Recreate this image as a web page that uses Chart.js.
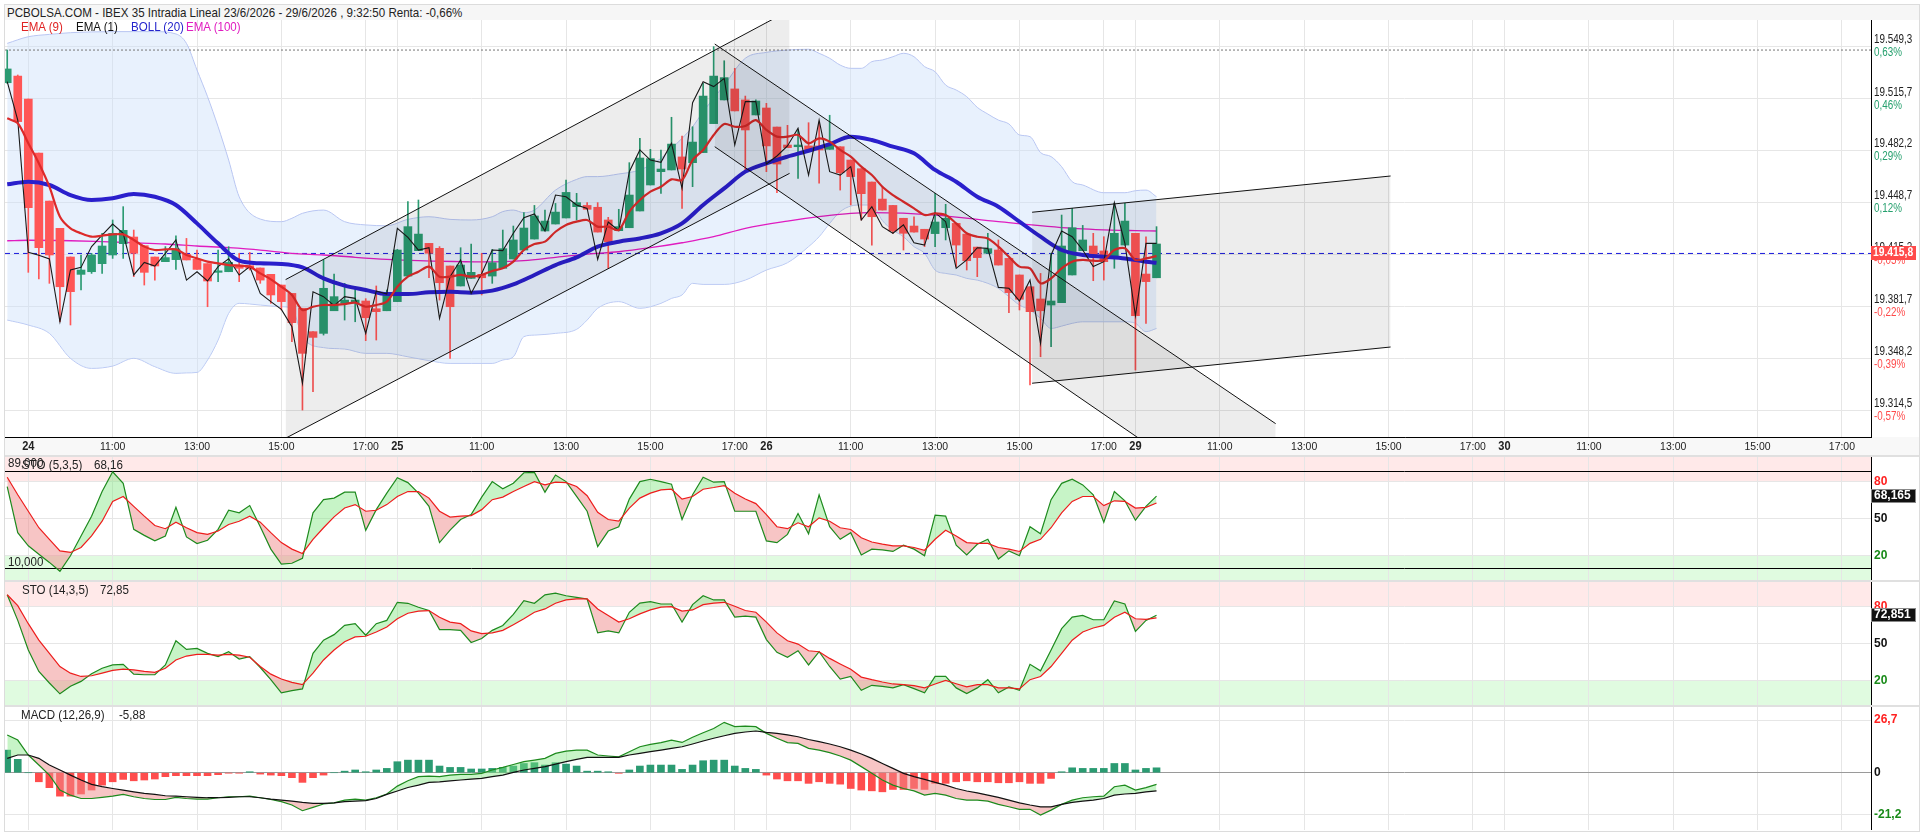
<!DOCTYPE html>
<html lang="es">
<head>
<meta charset="utf-8">
<title>IBEX 35 Intradia</title>
<script src="https://cdn.jsdelivr.net/npm/chart.js@4.4.1/dist/chart.umd.min.js"></script>
<style>
  html, body { margin: 0; padding: 0; background: #fff; }
  body { width: 1924px; height: 835px; position: relative; overflow: hidden;
         font-family: 'Liberation Sans', Arial, sans-serif; color: #222; }
  .abs { position: absolute; }
  #frame { left: 4px; top: 4px; width: 1916px; height: 828px; border: 1px solid #dcdcdc; box-sizing: border-box; }
  #titlebar { left: 5px; top: 5px; width: 1914px; height: 15px; background: #f6f6f6; }
  .sep { left: 5px; width: 1914px; height: 2px; background: #e0e0e0; }
  canvas.panel { position: absolute; left: 0; }
  /* letra algo estrecha: Liberation Sans comprimida */
  .txt { position: absolute; white-space: nowrap; font-size: 13px; line-height: 16px;
         transform: scaleX(0.89); transform-origin: 0 50%; }
</style>
</head>
<body>
<div id="frame" class="abs"></div>
<div id="titlebar" class="abs"></div>
<div class="txt" style="left:7px;top:5px;line-height:15px;">PCBOLSA.COM - IBEX 35 Intradia Lineal 23/6/2026 - 29/6/2026 , 9:32:50 Renta: -0,66%</div>

<canvas id="priceChart" class="panel" width="1919" height="435" style="top:20px"></canvas>
<div class="sep abs" style="top:455px"></div>
<canvas id="stoFast" class="panel" width="1919" height="123" style="top:457px"></canvas>
<div class="sep abs" style="top:580px"></div>
<canvas id="stoSlow" class="panel" width="1919" height="123" style="top:582px"></canvas>
<div class="sep abs" style="top:705px"></div>
<canvas id="macdChart" class="panel" width="1919" height="123" style="top:707px"></canvas>

<!-- leyenda -->
<div class="txt" style="left:21px;top:19px;color:#e02424">EMA (9)</div>
<div class="txt" style="left:76px;top:19px;color:#111">EMA (1)</div>
<div class="txt" style="left:131px;top:19px;color:#2424cc">BOLL (20)</div>
<div class="txt" style="left:186px;top:19px;color:#e01cc0">EMA (100)</div>

<div class="txt" style="left:8px;top:455px">89,000</div>
<div class="txt" style="left:22px;top:457px">STO (5,3,5)</div>
<div class="txt" style="left:94px;top:457px">68,16</div>
<div class="txt" style="left:8px;top:554px">10,000</div>
<div class="txt" style="left:22px;top:582px">STO (14,3,5)</div>
<div class="txt" style="left:100px;top:582px">72,85</div>
<div class="txt" style="left:21px;top:707px">MACD (12,26,9)</div>
<div class="txt" style="left:119px;top:707px">-5,88</div>

<script>
// ---- datos (velas de 15 min, primera = 23/6 17:15) ----
const firstBar = -2;

const candleOpen = [19526.0, 19530.3,
  19515.5, 19480.6, 19449.6, 19432.0, 19413.5, 19402.3, 19404.0, 19409.2, 19414.8, 19422.1,
  19426.4, 19420.8, 19413.5, 19410.5, 19411.8, 19415.2, 19412.0, 19409.2, 19403.6, 19404.0,
  19408.3, 19407.9, 19406.4, 19402.3, 19395.4, 19390.0, 19380.4, 19365.3, 19364.2, 19378.8,
  19383.6, 19384.0, 19385.1, 19380.1, 19378.8, 19384.7, 19401.2, 19417.6, 19422.3, 19419.1,
  19407.7, 19394.8, 19399.7, 19402.3, 19401.2, 19406.2, 19412.2, 19418.0, 19425.1, 19430.3,
  19434.8, 19438.7, 19446.0, 19446.8, 19445.6, 19437.4, 19430.5, 19432.4, 19443.2, 19460.0,
  19468.6, 19469.7, 19478.1, 19474.4, 19480.9, 19499.6, 19514.9, 19522.0, 19514.9, 19505.2,
  19509.7, 19497.4, 19485.8, 19484.7, 19485.2, 19485.2, 19483.0, 19484.7, 19476.1, 19470.5,
  19461.9, 19450.9, 19446.8, 19438.5, 19433.5, 19431.4, 19428.6, 19432.4, 19435.2, 19428.3,
  19419.9, 19415.9, 19418.0, 19412.6, 19401.9, 19394.3, 19386.4, 19382.5, 19384.0, 19401.9,
  19417.6, 19420.6, 19417.4, 19414.1, 19421.2, 19428.8, 19402.5, 19400.1];
const candleHigh = [19547.1, 19531.0,
  19515.5, 19480.6, 19449.6, 19432.0, 19413.5, 19414.8, 19415.9, 19428.8, 19437.4, 19446.0,
  19430.9, 19420.8, 19413.5, 19420.2, 19427.1, 19425.5, 19418.0, 19409.2, 19418.0, 19420.2,
  19415.9, 19416.5, 19406.4, 19402.3, 19395.4, 19390.0, 19380.4, 19365.3, 19411.6, 19402.5,
  19396.5, 19394.3, 19386.6, 19394.8, 19392.2, 19418.4, 19449.2, 19450.3, 19422.3, 19420.2,
  19407.7, 19419.5, 19421.9, 19415.9, 19418.4, 19430.9, 19433.5, 19442.1, 19446.8, 19443.8,
  19448.1, 19463.2, 19454.6, 19448.6, 19448.6, 19439.1, 19444.3, 19474.4, 19490.1, 19483.0,
  19482.6, 19503.7, 19491.6, 19497.6, 19525.6, 19549.3, 19540.2, 19535.3, 19517.4, 19514.9,
  19512.7, 19497.4, 19498.5, 19495.5, 19500.2, 19500.6, 19505.0, 19484.7, 19476.1, 19470.5,
  19461.9, 19458.9, 19446.8, 19438.5, 19439.5, 19431.4, 19454.6, 19447.5, 19435.2, 19428.3,
  19419.9, 19428.8, 19424.5, 19412.6, 19401.9, 19394.3, 19402.9, 19415.9, 19440.6, 19444.9,
  19433.9, 19428.8, 19426.6, 19448.1, 19448.1, 19428.8, 19426.6, 19433.1];
const candleLow = [19525.6, 19500.2,
  19403.6, 19399.3, 19396.5, 19371.7, 19369.6, 19392.2, 19402.9, 19402.9, 19412.6, 19412.6,
  19400.8, 19395.4, 19398.6, 19410.5, 19405.5, 19411.6, 19405.5, 19381.4, 19397.6, 19404.0,
  19397.6, 19405.1, 19396.5, 19383.6, 19379.3, 19358.8, 19314.7, 19326.5, 19363.1, 19378.8,
  19372.8, 19371.7, 19359.5, 19359.9, 19378.8, 19384.7, 19401.2, 19417.6, 19400.1, 19385.7,
  19348.1, 19394.8, 19399.7, 19389.0, 19396.5, 19406.2, 19412.2, 19418.0, 19425.1, 19430.3,
  19434.8, 19438.7, 19437.4, 19444.3, 19429.6, 19406.2, 19430.5, 19432.4, 19443.2, 19460.0,
  19454.6, 19469.7, 19444.9, 19458.9, 19480.9, 19499.6, 19514.9, 19507.8, 19469.7, 19505.2,
  19468.6, 19455.0, 19484.1, 19464.3, 19482.6, 19461.1, 19483.0, 19456.7, 19447.1, 19437.4,
  19421.2, 19443.8, 19428.8, 19418.0, 19429.6, 19420.2, 19420.2, 19424.5, 19407.3, 19405.1,
  19400.8, 19415.9, 19408.3, 19377.6, 19379.3, 19330.9, 19349.1, 19355.6, 19384.0, 19401.9,
  19417.6, 19398.2, 19398.6, 19406.2, 19421.2, 19340.5, 19370.7, 19400.1];
const candleClose = [19534.9, 19500.9,
  19445.3, 19419.5, 19414.8, 19394.3, 19391.1, 19405.1, 19414.8, 19420.6, 19428.8, 19430.7,
  19415.9, 19403.6, 19407.7, 19413.1, 19418.7, 19411.6, 19405.5, 19398.0, 19404.5, 19410.0,
  19406.2, 19406.2, 19398.6, 19389.0, 19384.7, 19371.1, 19351.3, 19361.6, 19393.3, 19387.9,
  19385.7, 19385.7, 19374.3, 19378.2, 19390.5, 19418.0, 19433.1, 19428.3, 19415.9, 19396.9,
  19381.4, 19408.3, 19403.6, 19400.1, 19409.8, 19418.9, 19424.5, 19432.2, 19440.0, 19436.7,
  19442.5, 19455.2, 19448.6, 19444.3, 19429.6, 19423.4, 19433.1, 19453.5, 19477.4, 19477.0,
  19470.3, 19486.4, 19470.3, 19487.7, 19517.4, 19530.3, 19529.3, 19507.8, 19495.5, 19514.2,
  19485.2, 19473.5, 19484.1, 19485.8, 19482.6, 19482.6, 19485.8, 19467.9, 19465.4, 19454.4,
  19439.5, 19443.8, 19430.3, 19428.8, 19429.6, 19425.1, 19436.1, 19438.5, 19421.2, 19411.1,
  19413.1, 19418.9, 19408.3, 19390.5, 19386.2, 19378.2, 19378.8, 19385.1, 19420.6, 19432.4,
  19424.5, 19413.7, 19410.5, 19428.8, 19436.7, 19375.6, 19397.6, 19421.9];

// EMA (1) - linea negra
const ema1Line = [19526.7, 19501.9,
  19416.5, 19414.6, 19412.2, 19371.7, 19405.1, 19406.8, 19420.2, 19427.7, 19434.8, 19428.8,
  19401.9, 19410.0, 19407.7, 19415.9, 19424.5, 19398.6, 19404.0, 19398.0, 19407.3, 19412.4,
  19401.9, 19407.3, 19390.0, 19384.7, 19379.7, 19368.5, 19331.9, 19391.1, 19387.9, 19382.1,
  19387.9, 19386.8, 19364.2, 19391.5, 19389.6, 19432.0, 19426.2, 19418.0, 19419.5, 19373.9,
  19400.8, 19411.6, 19390.0, 19402.9, 19418.0, 19417.6, 19428.8, 19438.9, 19441.3, 19430.3,
  19453.5, 19452.4, 19447.1, 19444.9, 19412.0, 19436.1, 19430.5, 19468.6, 19482.6, 19476.1,
  19474.6, 19486.9, 19457.8, 19513.1, 19526.7, 19523.5, 19528.8, 19485.8, 19513.8, 19513.8,
  19473.5, 19478.7, 19485.2, 19496.6, 19466.4, 19501.9, 19468.6, 19466.4, 19471.8, 19437.4,
  19446.0, 19433.1, 19428.8, 19434.2, 19422.7, 19421.2, 19442.1, 19436.3, 19406.2, 19411.6,
  19419.5, 19419.1, 19393.9, 19393.3, 19385.1, 19398.6, 19357.8, 19414.8, 19430.3, 19426.6,
  19418.0, 19407.3, 19410.5, 19448.6, 19422.3, 19375.6, 19422.3, 19422.3];

// EMA (9)
const ema9Line = [19503.0, 19499.8,
  19486.9, 19474.0, 19458.9, 19439.5, 19432.0, 19428.8, 19426.6, 19427.3, 19428.1, 19428.1,
  19424.5, 19420.2, 19418.0, 19418.4, 19418.4, 19414.8, 19412.6, 19410.5, 19409.4, 19408.3,
  19407.9, 19407.3, 19402.9, 19399.1, 19394.3, 19389.0, 19379.3, 19381.4, 19382.5, 19382.5,
  19383.1, 19384.0, 19381.4, 19382.5, 19384.7, 19394.3, 19400.8, 19404.0, 19407.3, 19400.8,
  19400.8, 19401.9, 19400.8, 19401.9, 19404.5, 19406.2, 19410.5, 19418.0, 19421.9, 19423.4,
  19429.8, 19434.2, 19436.3, 19437.4, 19433.1, 19433.1, 19430.9, 19442.8, 19450.3, 19455.7,
  19458.9, 19463.6, 19463.2, 19476.1, 19482.6, 19492.3, 19499.4, 19497.6, 19498.1, 19501.9,
  19495.5, 19491.2, 19491.2, 19492.3, 19486.9, 19490.1, 19488.0, 19482.6, 19478.3, 19471.8,
  19466.4, 19458.9, 19453.5, 19449.2, 19444.9, 19440.6, 19441.7, 19440.6, 19435.2, 19428.8,
  19426.6, 19425.5, 19420.2, 19413.7, 19407.3, 19406.2, 19396.5, 19399.7, 19406.2, 19410.5,
  19411.6, 19411.1, 19411.6, 19418.0, 19419.1, 19411.6, 19412.6, 19414.1];

const bandIdx = [-2, 0, 2, 4, 6, 8, 10, 12, 14, 15, 16, 17, 18, 19, 20, 22, 24, 25, 26, 28, 30, 32, 34, 36,
  38, 40, 42, 44, 45, 46, 47, 48, 50, 52, 53, 54, 56, 58, 60, 61, 62, 63, 64, 66, 68, 70, 72, 74,
  75, 76, 77, 78, 79, 80, 81, 82, 83, 84, 85, 86, 87, 88, 89, 90, 91, 92, 93, 94, 95, 96, 97, 98,
  99, 100, 102, 104, 105, 106, 107];
const bollUpper = [19551.4, 19555.7, 19557.2, 19558.3, 19558.8, 19559.0, 19559.0, 19559.0, 19557.5,
  19551.4, 19534.2, 19517.0, 19497.6, 19476.1, 19452.4, 19438.0, 19436.3, 19438.5, 19441.7, 19443.8,
  19436.3, 19434.2, 19433.7, 19437.8, 19439.5, 19437.8, 19437.4, 19439.5, 19442.8, 19443.8, 19442.1,
  19443.8, 19456.7, 19463.6, 19465.4, 19465.4, 19467.1, 19469.7, 19477.2, 19483.6, 19490.1, 19497.6,
  19507.3, 19524.5, 19541.8, 19545.6, 19547.1, 19547.6, 19545.0, 19541.8, 19537.4, 19535.3, 19535.3,
  19539.6, 19540.7, 19542.8, 19545.0, 19542.8, 19536.4, 19533.1, 19524.5, 19521.3, 19517.0, 19510.1,
  19505.8, 19501.9, 19499.4, 19492.3, 19491.2, 19480.9, 19478.3, 19471.8, 19462.1, 19460.0, 19455.0,
  19455.0, 19456.3, 19456.7, 19452.4];
const bollLower = [19372.8, 19369.6, 19364.2, 19348.1, 19341.6, 19343.1, 19348.1, 19342.7, 19338.4,
  19338.7, 19339.0, 19347.0, 19359.9, 19377.1, 19383.6, 19382.5, 19381.4, 19380.4, 19362.1, 19355.0,
  19354.1, 19351.3, 19351.3, 19349.1, 19346.6, 19344.8, 19344.8, 19344.8, 19347.0, 19349.1, 19362.1,
  19363.1, 19364.2, 19366.8, 19372.8, 19380.4, 19384.7, 19380.4, 19383.6, 19386.8, 19389.0, 19396.5,
  19395.8, 19395.8, 19398.6, 19405.1, 19409.8, 19420.2, 19426.6, 19435.2, 19442.8, 19446.4, 19447.1,
  19447.1, 19437.0, 19430.9, 19426.6, 19420.2, 19415.9, 19405.1, 19402.9, 19401.9, 19399.7, 19398.6,
  19396.5, 19393.3, 19387.9, 19382.5, 19379.3, 19373.9, 19367.4, 19368.9, 19370.7, 19371.7, 19371.7,
  19371.7, 19370.7, 19365.3, 19367.4];
const midIdx = [-2, 0, 2, 4, 6, 8, 10, 12, 14, 16, 18, 20, 22, 24, 26, 28, 30, 32, 34, 36, 38, 40, 42,
  44, 46, 48, 50, 52, 54, 56, 58, 60, 62, 64, 66, 68, 70, 72, 74, 76, 78, 80, 82, 84, 86, 88, 90, 92,
  94, 96, 98, 100, 102, 104, 106, 107];
const bollMid = [19460.4, 19462.1, 19460.0, 19453.5, 19450.3, 19451.4, 19454.2, 19452.4, 19447.1,
  19435.2, 19422.3, 19411.1, 19409.4, 19409.0, 19406.8, 19399.7, 19395.0, 19392.2, 19389.6, 19389.6,
  19390.7, 19391.1, 19390.5, 19391.8, 19395.8, 19401.9, 19408.3, 19413.3, 19420.2, 19423.4, 19425.5,
  19428.8, 19435.2, 19447.1, 19457.8, 19468.6, 19474.0, 19478.3, 19482.1, 19486.4, 19491.2, 19489.0,
  19484.7, 19480.4, 19469.7, 19462.1, 19452.4, 19446.0, 19436.3, 19426.6, 19418.0, 19414.8, 19413.7,
  19412.6, 19410.5, 19409.8];

// EMA (100)
const ema100Idx = [-2, 0, 4, 7, 10, 13, 16, 19, 22, 25, 28, 31, 34, 37, 41, 43, 47, 50, 53, 56, 59, 62,
  65, 68, 72, 75, 78, 80, 86, 92, 99, 105, 107];
const ema100 = [19424.0, 19424.3, 19424.0, 19423.4, 19422.7, 19421.9, 19420.6, 19419.5, 19418.0,
  19415.9, 19414.8, 19413.3, 19412.0, 19411.1, 19410.5, 19410.3, 19411.1, 19413.3, 19415.4, 19416.9,
  19419.5, 19422.7, 19426.6, 19432.0, 19436.7, 19439.5, 19441.7, 19442.1, 19440.6, 19436.3, 19432.0,
  19430.5, 19430.3];

// canales dibujados (extremos: vela, precio)
const ascX = [24.4, 72.2], ascHigh = [19398.9, 19572.8], ascLow = [19296.5, 19467.5];
const descX = [65.1, 118.3], descHigh = [19551.0, 19305.9], descLow = [19484.7, 19235.7];
const sideX = [95.2, 129.2], sideHigh = [19442.4, 19465.8], sideLow = [19332.0, 19355.4];

const lastPrice = 19415.8;
const periodHigh = 19547.1;
const priceTicks = [19549.3, 19515.7, 19482.2, 19448.7, 19415.2, 19381.7, 19348.2, 19314.5];
const pctLabels = ['0,63%', '0,46%', '0,29%', '0,12%', '-0,05%', '-0,22%', '-0,39%', '-0,57%'];

// STO (5,3,5)
const sto5K = [76.0, 38.5,
  27.8, 21.0, 14.3, 7.1, 19.7, 35.8, 51.9, 72.0, 88.0, 78.6,
  41.2, 36.3, 31.8, 35.8, 59.1, 35.0, 29.6, 32.3, 41.2, 56.7,
  54.6, 60.5, 43.3, 25.1, 13.0, 13.6, 17.6, 54.6, 65.3, 66.6,
  71.4, 71.4, 40.4, 57.2, 70.6, 83.2, 79.2, 70.6, 59.9, 30.4,
  40.6, 49.2, 53.2, 67.4, 80.0, 74.1, 78.7, 87.2, 87.5, 71.4,
  85.4, 80.0, 68.0, 55.9, 27.2, 39.8, 43.3, 65.8, 80.0, 81.9,
  80.0, 77.9, 49.2, 69.3, 83.5, 79.5, 80.0, 55.9, 55.9, 55.9,
  31.8, 30.4, 37.1, 54.0, 37.6, 69.3, 43.3, 33.1, 38.5, 20.3,
  25.1, 24.5, 23.2, 28.3, 25.1, 19.7, 52.7, 51.9, 28.3, 20.3,
  29.1, 33.1, 17.0, 23.7, 19.7, 43.3, 37.6, 65.3, 78.6, 81.9,
  77.3, 69.3, 47.0, 72.0, 64.4, 48.6, 59.9, 68.2];
const sto5D = [83.5, 69.3,
  55.9, 42.5, 33.1, 23.7, 22.4, 26.4, 35.8, 47.8, 63.9, 67.9,
  59.9, 51.9, 44.3, 41.7, 47.0, 42.5, 38.5, 37.1, 39.8, 45.1,
  47.8, 51.9, 47.0, 38.5, 30.4, 25.1, 21.6, 33.1, 42.5, 51.3,
  58.5, 61.3, 55.9, 56.7, 61.3, 67.9, 71.9, 71.9, 66.6, 55.9,
  51.1, 51.9, 52.4, 57.2, 65.3, 67.4, 71.9, 76.0, 80.0, 77.3,
  79.5, 79.2, 76.0, 68.5, 55.0, 49.2, 47.8, 58.5, 66.6, 70.6,
  73.3, 73.8, 65.8, 67.9, 73.8, 75.2, 76.8, 70.6, 65.8, 62.1,
  53.2, 43.3, 41.7, 46.5, 43.3, 50.5, 47.8, 42.5, 41.1, 34.4,
  30.9, 29.1, 27.7, 27.7, 26.4, 24.2, 33.1, 40.4, 35.8, 30.4,
  29.8, 29.8, 26.4, 25.1, 23.2, 29.8, 33.1, 42.5, 54.6, 63.9,
  67.9, 67.9, 60.5, 64.4, 63.9, 58.5, 59.1, 62.6];
const sto5Last = 68.165;
const sto5Levels = [89, 10];

// STO (14,3,5)
const sto14K = [89.6, 68.8,
  44.7, 27.3, 17.9, 9.1, 15.2, 19.2, 25.4, 29.9, 32.6, 33.1,
  25.1, 24.6, 24.6, 32.6, 52.2, 45.2, 46.0, 42.0, 39.3, 43.3,
  37.4, 39.3, 30.5, 20.6, 9.9, 11.7, 13.1, 42.0, 52.7, 57.2,
  64.7, 66.1, 56.7, 66.1, 68.8, 83.5, 82.7, 79.5, 76.8, 61.3,
  61.3, 60.7, 50.8, 54.0, 60.7, 64.7, 73.6, 84.8, 82.7, 89.6,
  91.0, 88.8, 87.5, 86.2, 58.6, 60.2, 58.6, 75.4, 82.9, 84.0,
  82.1, 82.1, 67.4, 81.6, 88.8, 85.4, 85.4, 71.4, 72.2, 71.4,
  53.2, 42.8, 38.8, 44.1, 32.6, 43.3, 31.3, 21.1, 23.2, 12.0,
  16.0, 15.2, 13.9, 16.5, 13.3, 9.9, 23.2, 23.2, 13.9, 9.3,
  13.9, 20.6, 9.9, 14.7, 12.0, 33.1, 27.8, 44.7, 62.1, 71.4,
  72.8, 69.3, 69.3, 84.6, 82.1, 59.9, 68.8, 72.9];
const sto14D = [89.6, 80.8,
  66.1, 52.7, 42.0, 31.3, 25.9, 23.2, 23.8, 25.9, 28.1, 29.1,
  28.6, 27.3, 26.5, 29.9, 36.6, 39.8, 41.2, 41.2, 40.6, 41.2,
  40.6, 38.8, 31.3, 25.1, 21.1, 18.4, 16.5, 25.9, 36.6, 44.7,
  51.4, 55.4, 55.9, 59.4, 63.4, 70.1, 74.6, 76.3, 76.8, 71.4,
  67.4, 66.1, 60.2, 58.0, 58.6, 60.7, 65.3, 70.1, 75.4, 78.1,
  82.7, 85.4, 86.2, 86.2, 78.1, 72.8, 67.4, 70.1, 74.1, 77.3,
  79.5, 80.0, 76.3, 77.3, 81.6, 82.9, 83.5, 80.3, 76.8, 75.4,
  67.4, 58.6, 52.2, 49.5, 44.1, 43.3, 37.9, 33.4, 29.1, 22.7,
  20.6, 18.7, 17.1, 16.5, 15.7, 13.9, 17.1, 20.0, 17.3, 14.7,
  16.5, 16.5, 13.9, 13.9, 13.1, 20.6, 23.2, 31.3, 42.0, 52.7,
  59.4, 62.6, 64.7, 71.4, 75.4, 70.1, 69.6, 70.9];
const sto14Last = 72.851;
const stoTicks = [20, 50, 80];

// MACD (12,26,9)
const macdLine = [19.2, 16.6,
  9.0, 3.9, -1.2, -8.8, -11.4, -13.1, -13.1, -12.5, -11.9, -11.0,
  -12.2, -13.1, -13.6, -13.6, -12.5, -13.1, -13.4, -13.4, -12.7, -12.2,
  -12.2, -11.9, -12.7, -13.6, -14.7, -16.4, -19.3, -17.6, -15.9, -15.3,
  -13.9, -13.4, -13.9, -12.7, -10.8, -6.8, -4.1, -2.0, -1.7, -2.0,
  -1.2, -0.8, -0.8, -0.3, 1.4, 2.7, 4.2, 5.6, 6.4, 7.3,
  9.8, 11.0, 11.5, 11.5, 9.0, 8.5, 8.1, 10.7, 13.2, 14.4,
  15.3, 16.6, 15.4, 18.0, 20.3, 22.5, 25.6, 23.4, 23.7, 23.4,
  20.0, 17.5, 15.3, 14.9, 12.4, 11.5, 10.2, 8.5, 6.4, 3.1,
  -0.3, -3.7, -6.3, -8.0, -9.2, -11.4, -10.5, -11.4, -13.1, -13.9,
  -13.9, -14.4, -16.1, -17.3, -18.6, -18.6, -21.5, -19.0, -16.1, -13.9,
  -12.7, -12.2, -11.9, -7.1, -6.3, -8.8, -7.6, -5.9];
const macdSignal = [7.3, 9.0,
  9.0, 7.3, 3.9, 1.4, -1.2, -3.7, -5.9, -7.1, -8.0, -8.8,
  -9.7, -10.5, -11.0, -11.7, -11.9, -12.2, -12.5, -12.7, -12.7, -12.5,
  -12.2, -12.2, -12.7, -13.4, -13.9, -14.4, -15.1, -15.6, -15.6, -15.3,
  -14.7, -14.4, -14.2, -13.1, -11.0, -9.3, -7.5, -6.3, -4.9, -4.6,
  -4.1, -3.7, -3.2, -2.9, -2.0, -1.2, 0.2, 1.4, 2.2, 3.1,
  4.4, 5.6, 6.8, 7.8, 7.8, 7.8, 7.8, 9.0, 9.8, 10.7,
  11.5, 12.4, 13.2, 14.6, 16.1, 17.5, 18.8, 20.0, 20.7, 21.2,
  20.5, 20.0, 19.2, 18.3, 16.9, 15.8, 14.6, 13.2, 11.5, 9.5,
  7.3, 4.7, 2.2, -0.3, -2.0, -3.4, -4.9, -6.3, -8.0, -9.3,
  -10.2, -11.4, -12.5, -13.9, -15.3, -16.4, -17.3, -17.3, -16.1, -15.1,
  -14.4, -13.9, -13.1, -11.4, -10.8, -10.5, -9.7, -9.2];
const macdHist = [11.5, 6.8,
  0, -4.6, -7.6, -11.9, -11.9, -10.8, -8.8, -6.3, -4.6, -3.4,
  -4.1, -3.7, -3.2, -2.0, -1.5, -1.5, -1.5, -1.5, -1.0, -0.2,
  -0.2, 0.5, -0.7, -1.2, -1.5, -2.5, -4.9, -2.5, -1.2, 0,
  0.8, 1.4, 0.5, 1.4, 2.2, 5.6, 6.4, 6.4, 6.4, 3.4,
  2.7, 2.7, 1.9, 1.9, 2.2, 2.7, 3.4, 4.7, 5.1, 3.9,
  5.1, 4.4, 3.4, 0.8, 0.8, 0.5, -0.3, 1.4, 3.4, 3.9,
  3.9, 3.9, 1.7, 3.9, 6.1, 6.4, 6.4, 3.4, 2.2, 1.7,
  -1.2, -3.2, -4.1, -4.1, -5.4, -4.6, -5.4, -5.8, -8.0, -8.8,
  -9.2, -9.7, -8.5, -8.5, -8.0, -8.5, -5.4, -5.4, -4.6, -4.1,
  -4.6, -4.6, -5.1, -5.1, -4.6, -5.4, -5.4, -2.9, 0.5, 2.5,
  2.2, 2.2, 2.2, 4.7, 4.7, 1.4, 2.2, 2.5];
const macdTicks = [-21.2, 0, 26.7];

// eje de tiempo
const dayLabels = ['24', '25', '26', '29', '30'];
const hourLabels = ['11:00', '13:00', '15:00', '17:00'];
const barsPerDay = 35;   // 9:00 .. 17:30
const xMin = -2.21, xMax = 174.76;

// ---- utilidades ----
const FONT = "'Liberation Sans', Arial, sans-serif";
const NARROW = 0.82;
const GREEN = '#2b9b72', RED = '#ff5656';

const xTicks = [];
dayLabels.forEach((d, k) => {
  xTicks.push({ value: k * barsPerDay, label: d, day: true });
  hourLabels.forEach((h, j) => xTicks.push({ value: k * barsPerDay + (j + 1) * 8, label: h, day: false }));
});

function pts(values) { return values.map((v, k) => ({ x: firstBar + k, y: v })); }
function pairs(xs, ys) { return xs.map((x, k) => ({ x: x, y: ys[k] })); }

function fmtNum(v, d) {
  const s = Math.abs(v).toFixed(d).split('.');
  const int = s[0].replace(/\B(?=(\d{3})+(?!\d))/g, '.');
  return (v < 0 ? '-' : '') + (d ? int + ',' + s[1] : int);
}

// texto estrecho en el canvas
function narrowText(ctx, text, x, y, font, color, align, squeeze) {
  ctx.save();
  ctx.font = font;
  ctx.fillStyle = color;
  ctx.textAlign = align || 'left';
  ctx.textBaseline = 'middle';
  ctx.translate(x, y);
  ctx.scale(squeeze || NARROW, 1);
  ctx.fillText(text, 0, 0);
  ctx.restore();
}

function xScale(showLine) {
  return {
    type: 'linear', min: xMin, max: xMax, offset: false,
    grid: { color: '#e6e6e6', drawTicks: false, offset: false },
    border: { display: showLine, color: '#000' },
    ticks: { display: false },
    afterBuildTicks: s => { s.ticks = xTicks.map(t => ({ value: t.value })); },
    afterFit: s => { s.height = showLine ? 18 : 0; s.paddingLeft = 0; s.paddingRight = 0; }
  };
}

function rightAxis(min, max, tickValues, extra) {
  return Object.assign({
    position: 'right', min: min, max: max,
    grid: { color: '#e6e6e6', drawTicks: false },
    border: { color: '#000' },
    afterBuildTicks: s => { s.ticks = tickValues.map(v => ({ value: v })); },
    afterFit: s => { s.width = 48; s.paddingTop = 0; s.paddingBottom = 0; }
  }, extra);
}

const baseOptions = {
  responsive: false, animation: false, events: [],
  layout: { padding: { left: 5, right: 0, top: 0, bottom: 0 } },
  plugins: { legend: { display: false }, tooltip: { enabled: false } }
};

function line(data, color, width, order, more) {
  return Object.assign({ type: 'line', data: data, borderColor: color, borderWidth: width,
    pointRadius: 0, fill: false, order: order }, more);
}

function candleColor(k) { return candleClose[k] >= candleOpen[k] ? GREEN : RED; }

// ---- grafico de precio ----
const priceDecor = {
  id: 'priceDecor',
  beforeDraw(chart) {
    const { ctx, chartArea: a } = chart;
    ctx.save();
    ctx.fillStyle = '#f8f8f8';
    ctx.fillRect(a.left, a.bottom, chart.width - a.left, chart.height - a.bottom);
    ctx.restore();
  },
  afterDraw(chart) {
    const { ctx, chartArea: a } = chart;
    const x = chart.scales.x, y = chart.scales.y;
    // etiquetas de tiempo
    xTicks.forEach(t => {
      narrowText(ctx, t.label, x.getPixelForValue(t.value), a.bottom + 10,
        (t.day ? 'bold 12px ' : '11px ') + FONT, '#222', 'center', t.day ? 0.92 : 0.95);
    });
    // precios y porcentajes
    priceTicks.forEach((v, k) => {
      const py = y.getPixelForValue(v);
      narrowText(ctx, fmtNum(v, 1), y.left + 3, py - 6.5, '12px ' + FONT, '#222');
      narrowText(ctx, pctLabels[k], y.left + 3, py + 6.5, '12px ' + FONT,
        pctLabels[k].charAt(0) === '-' ? '#ff4a4a' : '#26a06e');
    });
    // precio actual
    const cy = Math.round(y.getPixelForValue(lastPrice));
    ctx.save();
    ctx.fillStyle = '#ff4a4a';
    ctx.fillRect(y.left, cy - 7, 45, 14);
    ctx.restore();
    narrowText(ctx, fmtNum(lastPrice, 1), y.left + 2, cy, 'bold 12px ' + FONT, '#fff', 'left', 0.86);
  }
};

const gray = 'rgba(0,0,0,0.07)';
new Chart(document.getElementById('priceChart'), {
  type: 'line',
  data: {
    datasets: [
      line(pairs(ascX, ascHigh), '#111', 1, 0, { fill: '+1', backgroundColor: gray }),
      line(pairs(ascX, ascLow), '#111', 1, 0),
      line(pairs(descX, descHigh), '#111', 1, 0, { fill: '+1', backgroundColor: gray }),
      line(pairs(descX, descLow), '#111', 1, 0),
      line(pairs(sideX, sideHigh), '#111', 1, 0, { fill: '+1', backgroundColor: gray }),
      line(pairs(sideX, sideLow), '#111', 1, 0),
      line(pts(ema9Line), '#dd2a2a', 2.2, 1, { tension: 0.3 }),
      line(pts(ema1Line), '#1a1a1a', 1.1, 2),
      line(pairs(midIdx, bollMid), '#2a1fcc', 4, 3, { cubicInterpolationMode: 'monotone' }),
      {
        type: 'bar', order: 4, grouped: false, barThickness: 8, minBarLength: 1.5, clip: 0,
        data: candleOpen.map((o, k) => ({ x: firstBar + k, y: [o, candleClose[k]] })),
        backgroundColor: ctx => candleColor(ctx.dataIndex), borderWidth: 0
      },
      {
        type: 'bar', order: 5, grouped: false, barThickness: 1, clip: 0,
        data: candleLow.map((l, k) => ({ x: firstBar + k, y: [l, candleHigh[k]] })),
        backgroundColor: ctx => candleColor(ctx.dataIndex), borderWidth: 0
      },
      line(pairs(ema100Idx, ema100), '#e01cc0', 1.3, 6, { cubicInterpolationMode: 'monotone' }),
      line([{ x: xMin, y: lastPrice }, { x: xMax, y: lastPrice }], '#1a1adc', 1, 7, { borderDash: [5, 4] }),
      line([{ x: xMin, y: periodHigh }, { x: xMax, y: periodHigh }], '#777', 1, 7, { borderDash: [2, 2] }),
      line(pairs(bandIdx, bollUpper), '#b9c6f2', 1, 8,
        { fill: '+1', backgroundColor: 'rgba(205,223,250,0.45)', cubicInterpolationMode: 'monotone' }),
      line(pairs(bandIdx, bollLower), '#b9c6f2', 1, 8, { cubicInterpolationMode: 'monotone' })
    ]
  },
  options: Object.assign({}, baseOptions, {
    scales: {
      x: xScale(true),
      y: rightAxis(19297.3, 19566.5, priceTicks, { ticks: { display: false } })
    }
  }),
  plugins: [priceDecor]
});

// ---- estocasticos ----
function stoDecor(levels, boxValue) {
  return {
    id: 'stoDecor',
    beforeDraw(chart) {
      const { ctx, chartArea: a } = chart;
      const y = chart.scales.y;
      ctx.save();
      ctx.fillStyle = '#ffe9e9';
      ctx.fillRect(a.left, y.getPixelForValue(100), a.right - a.left, y.getPixelForValue(80) - y.getPixelForValue(100));
      ctx.fillStyle = '#e0fbe0';
      ctx.fillRect(a.left, y.getPixelForValue(20), a.right - a.left, y.getPixelForValue(0) - y.getPixelForValue(20));
      ctx.restore();
    },
    beforeDatasetsDraw(chart) {
      const { ctx, chartArea: a } = chart;
      const y = chart.scales.y;
      ctx.save();
      ctx.strokeStyle = '#000';
      ctx.lineWidth = 1;
      levels.forEach(v => {
        const py = Math.round(y.getPixelForValue(v)) + 0.5;
        ctx.beginPath(); ctx.moveTo(a.left, py); ctx.lineTo(a.right, py); ctx.stroke();
      });
      ctx.restore();
    },
    afterDraw(chart) {
      const { ctx } = chart;
      const y = chart.scales.y;
      const cy = Math.round(y.getPixelForValue(boxValue));
      ctx.save();
      ctx.fillStyle = '#111';
      ctx.fillRect(y.left, cy - 7, 45, 14);
      ctx.strokeStyle = '#888';
      ctx.strokeRect(y.left + 0.5, cy - 6.5, 44, 13);
      ctx.fillStyle = '#fff';
      ctx.font = 'bold 12px ' + FONT;
      ctx.textAlign = 'left';
      ctx.textBaseline = 'middle';
      ctx.fillText(fmtNum(boxValue, 3), y.left + 3, cy);
      ctx.restore();
    }
  };
}

function stoColor(v) { return v >= 80 ? '#ff2020' : (v <= 20 ? '#188a18' : '#111'); }

function drawSto(id, kVals, dVals, levels, last) {
  new Chart(document.getElementById(id), {
    type: 'line',
    data: {
      datasets: [
        line(pts(kVals), '#1d8a1d', 1.2, 1,
          { fill: { target: '+1', above: 'rgba(130,230,130,0.45)', below: 'rgba(240,140,140,0.5)' } }),
        line(pts(dVals), '#ee1c1c', 1.2, 0)
      ]
    },
    options: Object.assign({}, baseOptions, {
      scales: {
        x: xScale(false),
        y: rightAxis(0, 100, stoTicks, {
          ticks: { padding: 3, color: ctx => stoColor(ctx.tick.value),
                   font: { family: FONT, size: 12, weight: 'bold' }, callback: v => String(v) }
        })
      }
    }),
    plugins: [stoDecor(levels, last)]
  });
}

drawSto('stoFast', sto5K, sto5D, sto5Levels, sto5Last);
drawSto('stoSlow', sto14K, sto14D, [], sto14Last);

// ---- MACD ----
new Chart(document.getElementById('macdChart'), {
  type: 'line',
  data: {
    datasets: [
      line(pts(macdLine), '#1d8a1d', 1.2, 1,
        { fill: { target: '+1', above: 'rgba(130,230,130,0.45)', below: 'rgba(240,140,140,0.5)' } }),
      line(pts(macdSignal), '#111', 1.2, 0),
      {
        type: 'bar', order: 2, grouped: false, barThickness: 7, clip: 0,
        data: pts(macdHist),
        backgroundColor: ctx => (macdHist[ctx.dataIndex] >= 0 ? GREEN : '#ff4d4d'), borderWidth: 0
      }
    ]
  },
  options: Object.assign({}, baseOptions, {
    scales: {
      x: xScale(false),
      y: rightAxis(-29.1, 33.4, macdTicks, {
        grid: { color: ctx => (ctx.tick && ctx.tick.value === 0 ? '#9a9a9a' : '#e6e6e6'), drawTicks: false },
        ticks: { padding: 3, color: ctx => (ctx.tick.value > 0 ? '#ff2020' : (ctx.tick.value < 0 ? '#188a18' : '#111')),
                 font: { family: FONT, size: 12, weight: 'bold' },
                 callback: v => fmtNum(v, v === 0 ? 0 : 1) }
      })
    }
  })
});
</script>
</body>
</html>
